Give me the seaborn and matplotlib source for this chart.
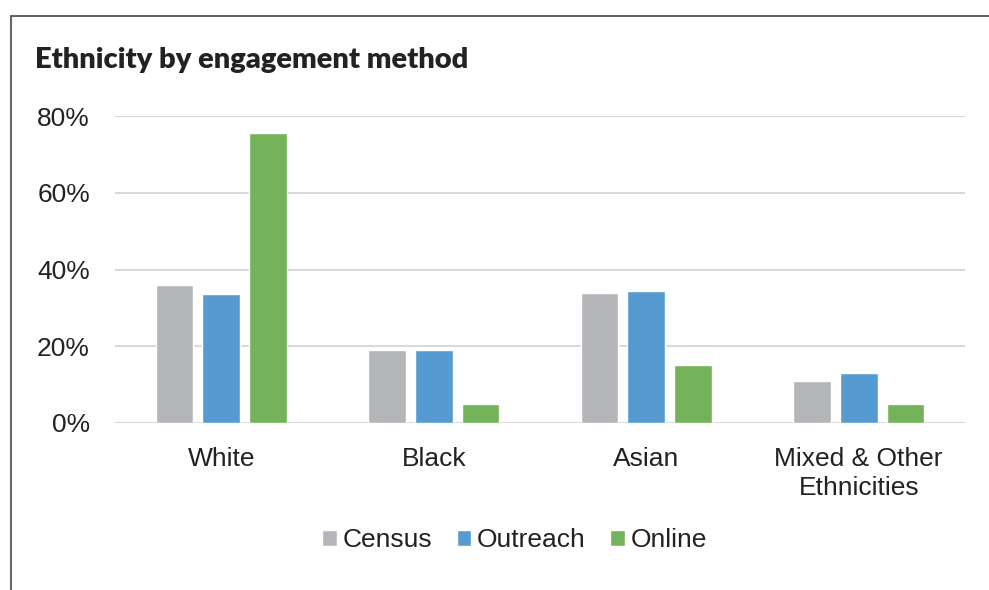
import pandas as pd
import matplotlib.pyplot as plt
import seaborn as sns
from matplotlib.lines import Line2D
from matplotlib.ticker import PercentFormatter

# Data
categories = ["White", "Black", "Asian", "Mixed & Other\nEthnicities"]
methods = ["Census", "Outreach", "Online"]
census = [36, 19, 34, 11]
outreach = [33.5, 19, 34.5, 13]
online = [75.5, 5, 15, 5]

colors = ["#B4B5B8", "#559BD2", "#75B35A"]

rows = []
for name, vals in zip(methods, [census, outreach, online]):
    for cat, v in zip(categories, vals):
        rows.append({"category": cat, "method": name, "value": v})
df = pd.DataFrame(rows)

sns.set_theme(style="white")
plt.rcParams["font.family"] = ["Liberation Sans", "DejaVu Sans"]

fig = plt.figure(figsize=(9.89, 5.9), dpi=100)
ax = fig.add_axes([115 / 989, 1 - 423 / 590, 850 / 989, 307 / 590])

sns.barplot(data=df, x="category", y="value", hue="method", palette=colors,
            width=0.663, gap=0.2, saturation=1, ax=ax, legend=True, zorder=3)

ax.set_ylim(0, 80)
ax.set_xlim(-0.5, 3.5)
ax.set_yticks([0, 20, 40, 60, 80])
ax.yaxis.set_major_formatter(PercentFormatter(decimals=0))
ax.grid(axis="y", color="#D9D9D9", linewidth=1.5, zorder=0)
ax.set_axisbelow(True)
for s in ax.spines.values():
    s.set_visible(False)
ax.tick_params(axis="both", length=0, labelsize=19, colors="#222222")
ax.tick_params(axis="x", pad=17)
ax.tick_params(axis="y", pad=18)
ax.set_xlabel("")
ax.set_ylabel("")
for lbl in ax.get_xticklabels():
    lbl.set_linespacing(1.3)

leg = ax.legend(loc="upper center", bbox_to_anchor=(0.47, -0.265), ncol=3, frameon=False,
                fontsize=19, handlelength=0.55, handleheight=0.55, handletextpad=0.2,
                columnspacing=0.95, labelcolor="#222222")

fig.text(35 / 989, 1 - 60 / 590, "Ethnicity by engagement method", fontsize=21,
         fontweight="heavy", family=["Lato", "DejaVu Sans"], color="#222222", va="center")

# frame lines on top and left
fig.add_artist(Line2D([11 / 989, 1], [1 - 16 / 590, 1 - 16 / 590], color="#666666", linewidth=1.5))
fig.add_artist(Line2D([11 / 989, 11 / 989], [0, 1 - 16 / 590], color="#666666", linewidth=1.5))

fig.savefig("out.png", dpi=100)
